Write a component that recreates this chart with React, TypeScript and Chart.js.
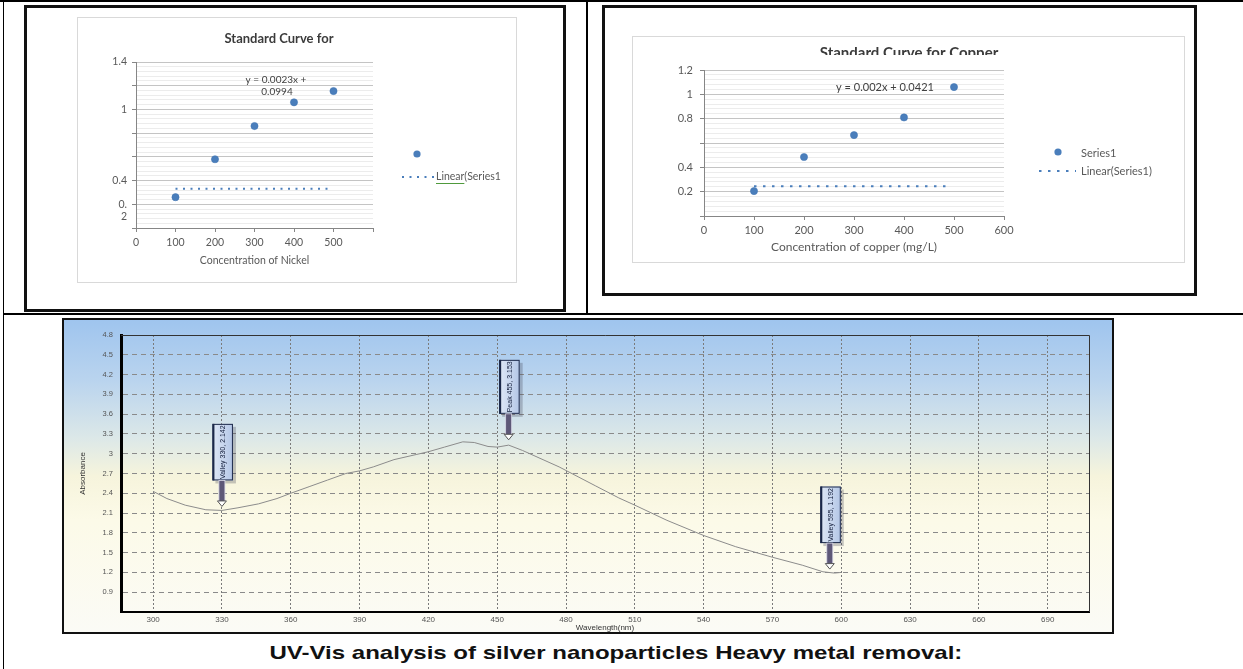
import React, { useEffect, useRef } from 'react';
import { Chart, registerables } from 'chart.js';

Chart.register(...registerables);

// ---------------- data ----------------
const nickelConcentration = [100, 200, 300, 400, 500];
const nickelAbsorbance = [0.26, 0.58, 0.86, 1.06, 1.155];
const nickelTrendX = [100, 490];
const nickelTrendY = [0.33, 0.33];
const nickelYTicks = ['1.4', '1', '0.4', '0.2'];
const nickelXTicks = ['0', '100', '200', '300', '400', '500'];
const nickelEquation = ['y = 0.0023x +', '0.0994'];

const copperConcentration = [100, 200, 300, 400, 500];
const copperAbsorbance = [0.205, 0.485, 0.665, 0.81, 1.06];
const copperTrendX = [100, 492];
const copperTrendY = [0.245, 0.245];
const copperYTicks = ['1.2', '1', '0.8', '0.4', '0.2'];
const copperXTicks = ['0', '100', '200', '300', '400', '500', '600'];
const copperEquation = ['y = 0.002x + 0.0421'];

const uvWavelength = [300, 306, 314, 323, 330, 337, 346, 354, 360, 368, 376, 384, 390, 396, 405, 415, 420, 427, 435, 440, 446, 450, 455, 461, 477, 493, 503, 510, 524, 540, 554, 570, 583, 592, 597, 600];
const uvAbsorbance = [2.43, 2.32, 2.22, 2.15, 2.14, 2.18, 2.24, 2.32, 2.40, 2.50, 2.60, 2.70, 2.74, 2.80, 2.91, 2.99, 3.03, 3.10, 3.18, 3.17, 3.11, 3.10, 3.13, 3.05, 2.80, 2.51, 2.33, 2.22, 1.99, 1.76, 1.59, 1.43, 1.31, 1.21, 1.19, 1.20];
const uvYTicks = ['0.9', '1.2', '1.5', '1.8', '2.1', '2.4', '2.7', '3', '3.3', '3.6', '3.9', '4.2', '4.5', '4.8'];
const uvXTicks = ['300', '330', '360', '390', '420', '450', '480', '510', '540', '570', '600', '630', '660', '690'];
const uvMarkerWavelength = [330, 455, 595];
const uvMarkerAbsorbance = [2.14, 3.15, 1.19];
const uvMarkerText = ['Valley 330, 2.142', 'Peak 455, 3.153', 'Valley 595, 1.192'];

const captionText = 'UV-Vis analysis of silver nanoparticles Heavy metal removal:';

// ---------------- helpers ----------------
const BLUE = '#4a7ebb';
const EXCEL_FONT = "Lato, 'Open Sans', sans-serif";
const UV_FONT = "'Liberation Sans', Arial, sans-serif";

const isMajor = (v: number) => Math.abs(v / 0.2 - Math.round(v / 0.2)) < 1e-6;

type TextItem = {
  text: string; x: number; y: number; font: string; color: string;
  align?: CanvasTextAlign; baseline?: CanvasTextBaseline; clipBottom?: number; underline?: string;
};
type LegendItem = {
  kind: 'point' | 'dotted'; x: number; y: number; x2?: number; dash?: number[];
};

function excelDecor(id: string, texts: TextItem[], legend: LegendItem[]) {
  return {
    id,
    beforeDraw(chart: any) {
      const { ctx, width, height } = chart;
      ctx.save();
      ctx.fillStyle = '#ffffff';
      ctx.fillRect(0, 0, width, height);
      ctx.strokeStyle = '#d9d9d9';
      ctx.lineWidth = 1;
      ctx.strokeRect(0.5, 0.5, width - 1, height - 1);
      ctx.restore();
    },
    afterDraw(chart: any) {
      const { ctx, width } = chart;
      for (const t of texts) {
        ctx.save();
        if (t.clipBottom !== undefined) {
          ctx.beginPath();
          ctx.rect(0, 0, width, t.clipBottom);
          ctx.clip();
        }
        ctx.font = t.font;
        ctx.fillStyle = t.color;
        ctx.textAlign = t.align || 'center';
        ctx.textBaseline = t.baseline || 'middle';
        ctx.fillText(t.text, t.x, t.y);
        if (t.underline) {
          const w = ctx.measureText(t.underline).width;
          ctx.strokeStyle = '#4f9a3c';
          ctx.lineWidth = 1;
          ctx.beginPath();
          ctx.moveTo(t.x, t.y + 6.5);
          ctx.lineTo(t.x + w, t.y + 6.5);
          ctx.stroke();
        }
        ctx.restore();
      }
      for (const l of legend) {
        ctx.save();
        if (l.kind === 'point') {
          ctx.fillStyle = BLUE;
          ctx.beginPath();
          ctx.arc(l.x, l.y, 3.6, 0, Math.PI * 2);
          ctx.fill();
        } else {
          ctx.strokeStyle = BLUE;
          ctx.lineWidth = 2;
          ctx.setLineDash(l.dash || [2, 5]);
          ctx.beginPath();
          ctx.moveTo(l.x, l.y);
          ctx.lineTo(l.x2 || l.x, l.y);
          ctx.stroke();
        }
        ctx.restore();
      }
    },
  };
}

function excelConfig(p: any) {
  return {
    type: 'scatter',
    data: {
      datasets: [
        {
          label: 'Series1',
          data: p.xs.map((x: number, i: number) => ({ x, y: p.ys[i] })),
          pointRadius: 3.6,
          pointHoverRadius: 3.6,
          backgroundColor: BLUE,
          borderColor: '#3f72b0',
          borderWidth: 0.5,
        },
        {
          label: 'Linear(Series1)',
          data: p.trendX.map((x: number, i: number) => ({ x, y: p.trendY[i] })),
          showLine: true,
          pointRadius: 0,
          borderColor: BLUE,
          borderWidth: 2,
          borderDash: p.dash,
          borderCapStyle: 'butt',
          fill: false,
        },
      ],
    },
    options: {
      responsive: false,
      animation: false,
      devicePixelRatio: 1,
      events: [],
      layout: { padding: p.padding },
      plugins: { legend: { display: false }, tooltip: { enabled: false }, title: { display: false } },
      scales: {
        x: {
          type: 'linear',
          min: 0,
          max: 600,
          afterFit: (s: any) => { s.height = p.xHeight; },
          ticks: {
            stepSize: 100,
            autoSkip: false,
            maxRotation: 0,
            padding: p.xTickPad,
            color: '#595959',
            font: { family: EXCEL_FONT, size: p.tickFont },
            callback: (v: number) => (p.xLabels.includes(String(v)) ? String(v) : ''),
          },
          grid: { display: true, drawOnChartArea: false, drawTicks: true, tickLength: 4, color: '#868686' },
          border: { display: true, color: '#868686', width: 1 },
          title: {
            display: true,
            text: p.xTitle,
            color: '#595959',
            font: { family: EXCEL_FONT, size: p.xTitleFont },
            padding: { top: 0, bottom: p.xTitlePad },
          },
        },
        y: {
          type: 'linear',
          min: 0,
          max: p.yMax,
          afterFit: (s: any) => { s.width = p.yWidth; },
          ticks: {
            stepSize: 0.04,
            autoSkip: false,
            padding: p.yTickPad,
            color: '#595959',
            font: { family: EXCEL_FONT, size: p.tickFont },
            callback: (v: number) => p.yLabel(v),
          },
          grid: {
            color: (c: any) => (c.tick && isMajor(c.tick.value) ? '#c4c4c4' : '#ececec'),
            tickColor: (c: any) => (c.tick && isMajor(c.tick.value) ? '#868686' : 'rgba(0,0,0,0)'),
            tickLength: 4,
            lineWidth: 1,
          },
          border: { display: true, color: '#868686', width: 1 },
        },
      },
    },
    plugins: [p.plugin],
  };
}

function nickelConfig() {
  const tf = `bold 13px ${EXCEL_FONT}`;
  return excelConfig({
    xs: nickelConcentration,
    ys: nickelAbsorbance,
    trendX: nickelTrendX,
    trendY: nickelTrendY,
    yMax: 1.4,
    xLabels: nickelXTicks,
    yLabel: (v: number) => {
      const k = String(Math.round(v * 100) / 100);
      if (!nickelYTicks.includes(k)) return '';
      return k === '0.2' ? ['', '0.', '2'] : k;
    },
    xTitle: 'Concentration of Nickel',
    tickFont: 10.5,
    xTitleFont: 10.5,
    padding: { left: 19, right: 144, top: 45, bottom: 10 },
    yWidth: 40,
    xHeight: 45,
    xTickPad: 4.4,
    yTickPad: 5,
    xTitlePad: 5.7,
    dash: [2, 5.5],
    plugin: excelDecor(
      'nickelDecor',
      [
        { text: 'Standard Curve for', x: 202, y: 22, font: tf, color: '#3b3b3b' },
        { text: nickelEquation[0], x: 199, y: 63, font: `10px ${EXCEL_FONT}`, color: '#404040' },
        { text: nickelEquation[1], x: 200, y: 75, font: `10px ${EXCEL_FONT}`, color: '#404040' },
        { text: 'Linear(Series1', x: 359, y: 160, font: `10.5px ${EXCEL_FONT}`, color: '#595959', align: 'left', underline: 'Linear' },
      ],
      [
        { kind: 'point', x: 340, y: 137 },
        { kind: 'dotted', x: 325, x2: 357, y: 160, dash: [2, 5.5] },
      ]
    ),
  });
}

function copperConfig() {
  return excelConfig({
    xs: copperConcentration,
    ys: copperAbsorbance,
    trendX: copperTrendX,
    trendY: copperTrendY,
    yMax: 1.2,
    xLabels: copperXTicks,
    yLabel: (v: number) => {
      const k = String(Math.round(v * 100) / 100);
      return copperYTicks.includes(k) ? k : '';
    },
    xTitle: 'Concentration of copper (mg/L)',
    tickFont: 11,
    xTitleFont: 12,
    padding: { left: 32, right: 181, top: 34, bottom: 4 },
    yWidth: 40,
    xHeight: 43,
    xTickPad: 3.4,
    yTickPad: 7,
    xTitlePad: 4.8,
    dash: [2.5, 6.5],
    plugin: excelDecor(
      'copperDecor',
      [
        { text: 'Standard Curve for Copper', x: 277, y: 21.5, font: `bold 15px ${EXCEL_FONT}`, color: '#3b3b3b', baseline: 'alphabetic', clipBottom: 19 },
        { text: copperEquation[0], x: 253, y: 51, font: `11px ${EXCEL_FONT}`, color: '#404040' },
        { text: 'Series1', x: 449, y: 117, font: `11px ${EXCEL_FONT}`, color: '#595959', align: 'left' },
        { text: 'Linear(Series1)', x: 449, y: 135, font: `11px ${EXCEL_FONT}`, color: '#595959', align: 'left' },
      ],
      [
        { kind: 'point', x: 426, y: 116 },
        { kind: 'dotted', x: 407, x2: 444, y: 135, dash: [2.5, 6.5] },
      ]
    ),
  });
}

const uvPlugin = {
  id: 'uvDecor',
  beforeDraw(chart: any) {
    const { ctx, width, height } = chart;
    const g = ctx.createLinearGradient(0, 0, 0, height);
    g.addColorStop(0, '#9ec4ee');
    g.addColorStop(0.2, '#bad4ee');
    g.addColorStop(0.38, '#dce8e8');
    g.addColorStop(0.5, '#f6f4dc');
    g.addColorStop(0.64, '#fcfae8');
    g.addColorStop(1, '#fbfbf6');
    ctx.save();
    ctx.fillStyle = g;
    ctx.fillRect(0, 0, width, height);
    ctx.restore();
  },
  afterDatasetsDraw(chart: any) {
    const { ctx } = chart;
    const xs = chart.scales.x;
    const ys = chart.scales.y;
    for (let i = 0; i < uvMarkerText.length; i++) {
      const px = xs.getPixelForValue(uvMarkerWavelength[i]);
      const py = ys.getPixelForValue(uvMarkerAbsorbance[i]);
      const tipY = py - 4;
      const shaft = 26;
      const boxBottom = tipY - shaft;
      ctx.save();
      ctx.font = `7px ${UV_FONT}`;
      const tw = ctx.measureText(uvMarkerText[i]).width;
      const boxH = tw + 3;
      const boxW = 20.5;
      const boxLeft = px - 9.5;
      const boxTop = boxBottom - boxH;
      ctx.fillStyle = 'rgba(60,60,80,0.28)';
      ctx.fillRect(boxLeft + 3, boxTop + 3, boxW, boxH);
      const bg = ctx.createLinearGradient(boxLeft, 0, boxLeft + boxW, 0);
      bg.addColorStop(0, '#dfe8f6');
      bg.addColorStop(1, '#b3c6e6');
      ctx.fillStyle = bg;
      ctx.fillRect(boxLeft, boxTop, boxW, boxH);
      ctx.strokeStyle = '#1b2849';
      ctx.lineWidth = 1;
      ctx.strokeRect(boxLeft + 0.5, boxTop + 0.5, boxW - 1, boxH - 1);
      ctx.fillStyle = '#1b2849';
      ctx.fillRect(boxLeft, boxTop, 2, boxH);
      ctx.save();
      ctx.translate(boxLeft + boxW / 2 + 0.5, boxTop + boxH / 2);
      ctx.rotate(-Math.PI / 2);
      ctx.fillStyle = '#101a38';
      ctx.textAlign = 'center';
      ctx.textBaseline = 'middle';
      ctx.fillText(uvMarkerText[i], 0, 0);
      ctx.restore();
      ctx.fillStyle = '#5e5878';
      ctx.fillRect(px - 3, boxBottom, 6, shaft - 5);
      ctx.strokeStyle = '#d8d8e8';
      ctx.lineWidth = 0.8;
      ctx.strokeRect(px - 3, boxBottom, 6, shaft - 5);
      ctx.beginPath();
      ctx.moveTo(px - 4.5, tipY - 5.5);
      ctx.lineTo(px + 4.5, tipY - 5.5);
      ctx.lineTo(px, tipY);
      ctx.closePath();
      ctx.fillStyle = '#ffffff';
      ctx.fill();
      ctx.strokeStyle = '#555';
      ctx.lineWidth = 1;
      ctx.stroke();
      ctx.restore();
    }
  },
  afterDraw(chart: any) {
    const { ctx, width, height, chartArea } = chart;
    ctx.save();
    ctx.strokeStyle = '#333';
    ctx.lineWidth = 1;
    ctx.beginPath();
    ctx.moveTo(chartArea.left, chartArea.top + 0.5);
    ctx.lineTo(chartArea.right + 0.5, chartArea.top + 0.5);
    ctx.lineTo(chartArea.right + 0.5, chartArea.bottom);
    ctx.stroke();
    ctx.strokeStyle = '#111';
    ctx.lineWidth = 2;
    ctx.strokeRect(1, 1, width - 2, height - 2);
    ctx.restore();
  },
};

function uvConfig() {
  return {
    type: 'scatter',
    data: {
      datasets: [
        {
          label: 'Absorbance',
          data: uvWavelength.map((x, i) => ({ x, y: uvAbsorbance[i] })),
          showLine: true,
          pointRadius: 0,
          borderColor: '#8c8c8c',
          borderWidth: 1,
          tension: 0,
          fill: false,
        },
      ],
    },
    options: {
      responsive: false,
      animation: false,
      devicePixelRatio: 1,
      events: [],
      layout: { padding: { left: 14, right: 25, top: 17, bottom: 0 } },
      plugins: { legend: { display: false }, tooltip: { enabled: false } },
      scales: {
        x: {
          type: 'linear',
          min: 286,
          max: 708,
          afterFit: (s: any) => { s.height = 22; },
          afterBuildTicks: (s: any) => {
            s.ticks = s.ticks.filter((t: any) => Math.abs(t.value / 30 - Math.round(t.value / 30)) < 1e-6);
          },
          ticks: {
            stepSize: 30,
            autoSkip: false,
            maxRotation: 0,
            padding: 3.2,
            color: '#555',
            font: { family: UV_FONT, size: 8 },
            callback: (v: number) => (uvXTicks.includes(String(v)) ? String(v) : ''),
          },
          grid: { color: '#7a7a7a', lineWidth: 1, drawTicks: false },
          border: { display: true, color: '#000', width: 2, dash: [2, 2] },
          title: {
            display: true,
            text: 'Wavelength(nm)',
            color: '#333',
            font: { family: UV_FONT, size: 8 },
            padding: { top: 0, bottom: 1.2 },
          },
        },
        y: {
          type: 'linear',
          min: 0.6,
          max: 4.8,
          afterFit: (s: any) => { s.width = 45; },
          ticks: {
            stepSize: 0.3,
            autoSkip: false,
            padding: 8,
            color: '#555',
            font: { family: UV_FONT, size: 7.5 },
            callback: (v: number) => {
              const k = String(Math.round(v * 10) / 10);
              return uvYTicks.includes(k) ? k : '';
            },
          },
          grid: { color: '#8a8a8a', lineWidth: 1, drawTicks: false },
          border: { display: true, color: '#000', width: 3, dash: [5, 4] },
          title: {
            display: true,
            text: 'Absorbance',
            color: '#333',
            font: { family: UV_FONT, size: 8 },
            padding: { top: 2, bottom: 0 },
          },
        },
      },
    },
    plugins: [uvPlugin],
  };
}

function ChartCanvas(props: { make: () => any; left: number; top: number; width: number; height: number }) {
  const ref = useRef<HTMLCanvasElement>(null);
  useEffect(() => {
    const chart = new Chart(ref.current as HTMLCanvasElement, props.make());
    return () => chart.destroy();
  }, []);
  return (
    <canvas
      ref={ref}
      width={props.width}
      height={props.height}
      style={{ position: 'absolute', left: props.left, top: props.top, width: props.width, height: props.height }}
    />
  );
}

const line = (left: number, top: number, width: number, height: number) => (
  <div style={{ position: 'absolute', left, top, width, height, background: '#000' }} />
);

export default function App() {
  return (
    <div style={{ position: 'absolute', left: 0, top: 0, width: 1243, height: 669, background: '#fff', overflow: 'hidden' }}>
      {line(0, 0, 1243, 2)}
      {line(3, 0, 1, 669)}
      {line(586, 0, 2, 314)}
      {line(3, 313, 1240, 2)}
      <div style={{ position: 'absolute', left: 24, top: 5, width: 542, height: 307, border: '3px solid #111', boxSizing: 'border-box' }} />
      <div style={{ position: 'absolute', left: 602, top: 5, width: 595, height: 291, border: '3px solid #111', boxSizing: 'border-box' }} />
      <ChartCanvas make={nickelConfig} left={77} top={17} width={440} height={266} />
      <ChartCanvas make={copperConfig} left={632} top={36} width={553} height={227} />
      <ChartCanvas make={uvConfig} left={62} top={318} width={1052} height={316} />
      <div
        style={{
          position: 'absolute',
          left: 0,
          top: 641,
          width: 1231,
          textAlign: 'center',
          whiteSpace: 'nowrap',
        }}
      >
        <span
          style={{
            display: 'inline-block',
            fontFamily: UV_FONT,
            fontWeight: 'bold',
            fontSize: 19,
            lineHeight: '24px',
            color: '#111',
            transform: 'scaleX(1.265)',
            transformOrigin: 'center',
          }}
        >
          {captionText}
        </span>
      </div>
    </div>
  );
}
